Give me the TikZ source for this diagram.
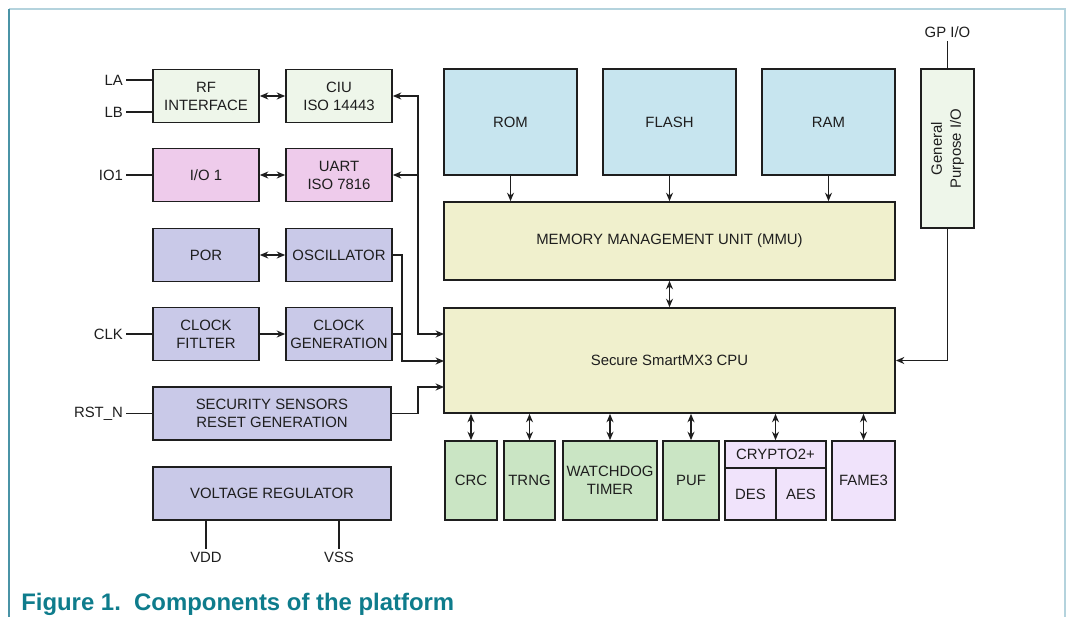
\documentclass[tikz,border=0pt]{standalone}
\usepackage{fontspec}
\setmainfont{Liberation Sans}
\usetikzlibrary{arrows.meta}

\definecolor{palegreen}{HTML}{EEF6EA}
\definecolor{pinkio}{HTML}{EECBEB}
\definecolor{lavender}{HTML}{C9C9E8}
\definecolor{memblue}{HTML}{C7E5EF}
\definecolor{cpuyellow}{HTML}{F0F0CD}
\definecolor{periphgreen}{HTML}{CAE5C4}
\definecolor{cryptolilac}{HTML}{F0E3FB}
\definecolor{captionteal}{HTML}{0E7C8C}
\definecolor{framelight}{HTML}{B4D3DD}
\definecolor{frameleft}{HTML}{4A93A6}
\definecolor{inkgray}{HTML}{1E1E1E}

\begin{document}
\begin{tikzpicture}[x=0.025cm, y=-0.025cm, >={Stealth[length=6pt,width=5pt]},
    blk/.style = {draw=inkgray, line width=1.2pt, inner sep=1pt, align=center, text=inkgray,
                  font=\fontsize{10.6}{12.8}\selectfont},
    small/.style = {blk, minimum width=2.65cm, minimum height=1.325cm},
    wide/.style = {blk, minimum width=5.95cm, minimum height=1.325cm},
    mem/.style = {blk, fill=memblue, minimum width=3.325cm, minimum height=2.65cm},
    core/.style = {blk, fill=cpuyellow, minimum width=11.275cm},
    periph/.style = {blk, minimum height=1.975cm},
    sig/.style = {inner sep=2pt, text=inkgray, font=\fontsize{10.6}{12.8}\selectfont},
    wire/.style = {line width=0.9pt, draw=inkgray}]

    \useasboundingbox (0,0) rectangle (1066,617);
    % frame of the figure
    \draw[framelight, line width=0.8pt] (9,9) -- (1065,9) -- (1065,617);
    \draw[frameleft, line width=0.8pt] (9,9) -- (9,617);

    % left column
    \node[small, fill=palegreen] (rf) at (206,96) {RF\\INTERFACE};
    \node[small, fill=palegreen] (ciu) at (339,96) {CIU\\ISO 14443};
    \node[small, fill=pinkio] (io) at (206,175) {I/O 1};
    \node[small, fill=pinkio] (uart) at (339,175) {UART\\ISO 7816};
    \node[small, fill=lavender] (por) at (206,255) {POR};
    \node[small, fill=lavender] (osc) at (339,255) {OSCILLATOR};
    \node[small, fill=lavender] (clkf) at (206,334) {CLOCK\\FITLTER};
    \node[small, fill=lavender] (clkg) at (339,334) {CLOCK\\GENERATION};
    \node[wide, fill=lavender] (ssr) at (272,413.5) {SECURITY SENSORS\\RESET GENERATION};
    \node[wide, fill=lavender] (vreg) at (272,493.5) {VOLTAGE REGULATOR};

    % pins
    \node[sig, anchor=east] (la) at (126,80) {LA};
    \node[sig, anchor=east] (lb) at (126,112) {LB};
    \node[sig, anchor=east] (io1) at (126,175) {IO1};
    \node[sig, anchor=east] (clk) at (126,334) {CLK};
    \node[sig, anchor=east] (rst) at (126,413.5) {RST\_N};
    \node[sig] (vdd) at (206,557) {VDD};
    \node[sig] (vss) at (339,557) {VSS};
    \node[sig] (gplbl) at (947.5,32) {GP I/O};

    % memories and core
    \node[mem] (rom) at (510.5,122) {ROM};
    \node[mem] (flash) at (669.5,122) {FLASH};
    \node[mem] (ram) at (828.5,122) {RAM};
    \node[core, minimum height=1.95cm] (mmu) at (669.5,241) {MEMORY MANAGEMENT UNIT (MMU)};
    \node[core, minimum height=2.625cm] (cpu) at (669.5,360.5) {Secure SmartMX3 CPU};
    \node[blk, fill=palegreen, minimum width=1.325cm, minimum height=3.975cm] (gpio) at (947.5,148.5) {};
    \node[rotate=90, align=center, text=inkgray, font=\fontsize{10.6}{13.5}\selectfont] (gpiotxt) at (gpio) {General\\Purpose I/O};

    % peripherals
    \node[periph, fill=periphgreen, minimum width=1.3cm] (crc) at (471,480.5) {CRC};
    \node[periph, fill=periphgreen, minimum width=1.275cm] (trng) at (529.5,480.5) {TRNG};
    \node[periph, fill=periphgreen, minimum width=2.35cm] (wdt) at (610,480.5) {WATCHDOG\\TIMER};
    \node[periph, fill=periphgreen, minimum width=1.4cm] (puf) at (691,480.5) {PUF};
    \node[blk, fill=cryptolilac, minimum width=2.525cm, minimum height=0.675cm] (cry) at (775.5,454.5) {CRYPTO2+};
    \node[blk, fill=cryptolilac, minimum width=1.275cm, minimum height=1.3cm] (des) at (750.5,494) {DES};
    \node[blk, fill=cryptolilac, minimum width=1.25cm, minimum height=1.3cm] (aes) at (801,494) {AES};
    \node[periph, fill=cryptolilac, minimum width=1.575cm] (fame) at (863.5,480.5) {FAME3};

    % pin wires
    \draw[wire] (la.east) -- (la.east -| rf.west);
    \draw[wire] (lb.east) -- (lb.east -| rf.west);
    \draw[wire] (io1) -- (io);
    \draw[wire] (clk) -- (clkf);
    \draw[wire] (rst.east) -- (rst.east -| ssr.west);
    \draw[wire] (vdd.north) -- (vdd.north |- vreg.south);
    \draw[wire] (vss.north) -- (vss.north |- vreg.south);
    \draw[wire] (gpio.north) -- (gpio.north |- gplbl.south);

    % left column links
    \path[wire, <->] (rf) edge (ciu);
    \path[wire, <->] (io) edge (uart);
    \path[wire, <->] (por) edge (osc);
    \path[wire, ->] (clkf) edge (clkg);

    % links into the cpu
    \coordinate (b1) at (418,334);
    \coordinate (b2) at (402,361);
    \coordinate (b3) at (418,387);
    \coordinate (cin1) at (444,334);
    \coordinate (cin2) at (444,361);
    \coordinate (cin3) at (444,387);
    \draw[wire, <->] (ciu.east) -| (b1) -- (cin1);
    \draw[wire, ->] (b1 |- uart.east) -- (uart.east);
    \draw[wire, ->] (osc.east) -| (b2) -- (cin2);
    \draw[wire] (clkg.east) -- (clkg.east -| b2);
    \draw[wire, ->] (ssr.east) -| (b3) -- (cin3);
    \draw[wire, ->] (gpio.south) |- (cpu.east);

    % memory bus
    \draw[wire, ->] (rom.south) -- (rom.south |- mmu.north);
    \draw[wire, ->] (flash.south) -- (flash.south |- mmu.north);
    \draw[wire, ->] (ram.south) -- (ram.south |- mmu.north);
    \draw[wire, <->] (mmu.south) -- (cpu.north);

    % peripheral bus
    \foreach \p in {crc, trng, wdt, puf, cry, fame}
        \draw[wire, <->] (cpu.south -| \p.north) -- (\p.north);

    \node[anchor=west, inner sep=0pt, text=captionteal, font=\fontsize{17}{18}\selectfont\bfseries] (cap) at (21,604) {Figure 1.\ \ Components of the platform};
\end{tikzpicture}
\end{document}
